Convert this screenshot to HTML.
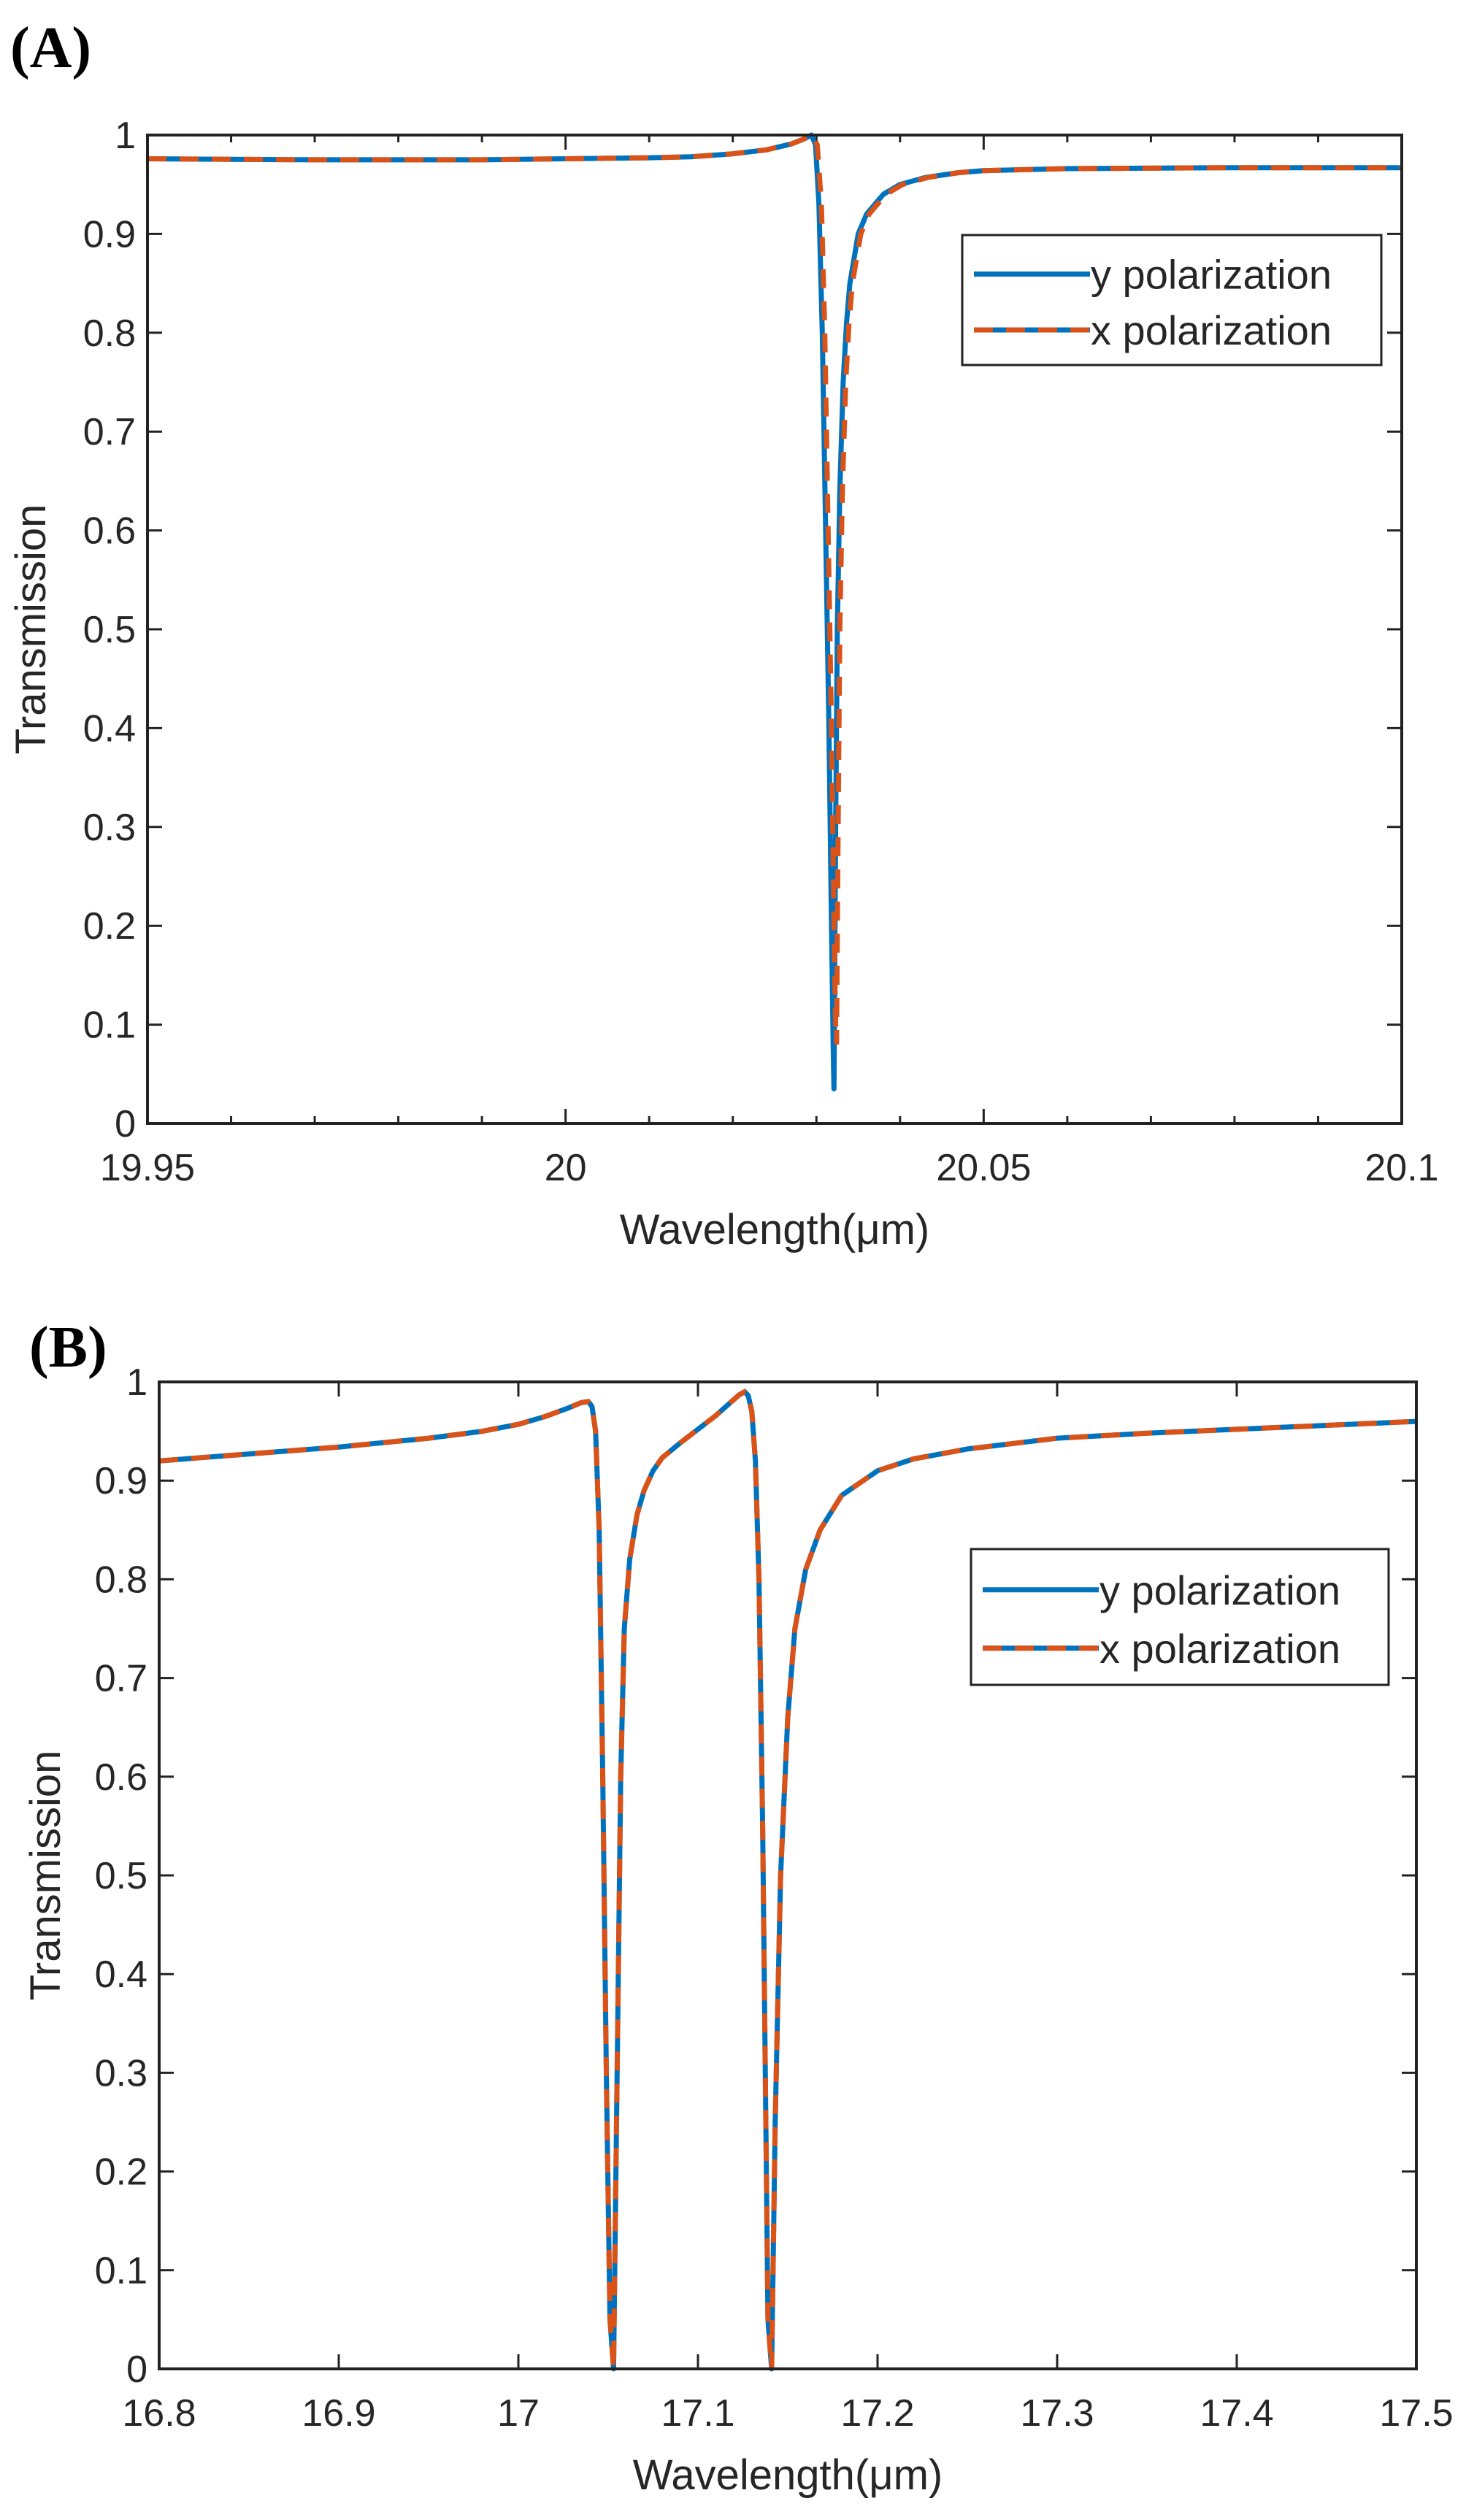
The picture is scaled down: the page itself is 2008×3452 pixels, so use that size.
<!DOCTYPE html>
<html><head><meta charset="utf-8"><style>
html,body{margin:0;padding:0;background:#fff;}
svg{display:block;font-family:"Liberation Sans",sans-serif;}
</style></head><body>
<svg id="fig" width="2008" height="3452" viewBox="0 0 2008 3452" xmlns="http://www.w3.org/2000/svg">
<text x="14" y="92" font-family="Liberation Serif" font-weight="bold" font-size="80">(A)</text>
<text x="40" y="1872" font-family="Liberation Serif" font-weight="bold" font-size="80">(B)</text>
</svg>
<script>
// Panel A data
const aXTicks=[19.95,20,20.05,20.1];
const aXTickLabels=["19.95","20","20.05","20.1"];
const aYTicks=[0,0.1,0.2,0.3,0.4,0.5,0.6,0.7,0.8,0.9,1];
const aYTickLabels=["0","0.1","0.2","0.3","0.4","0.5","0.6","0.7","0.8","0.9","1"];
const aYPolX=[19.95,19.97,19.99,20.0,20.01,20.015,20.02,20.024,20.027,20.0285,20.0294,20.0299,20.0303,20.0307,20.0311,20.0315,20.0318,20.032,20.0321,20.0323,20.0325,20.0328,20.0332,20.0336,20.034,20.035,20.036,20.038,20.04,20.043,20.047,20.05,20.06,20.08,20.1];
const aYPolY=[0.976,0.975,0.975,0.976,0.977,0.978,0.981,0.985,0.991,0.996,1.0,0.99,0.93,0.8,0.6,0.4,0.2,0.08,0.035,0.3,0.5,0.64,0.75,0.81,0.85,0.9,0.92,0.94,0.95,0.957,0.962,0.964,0.966,0.967,0.967];
const aXPolX=[19.95,19.97,19.99,20.0,20.01,20.015,20.02,20.024,20.027,20.0285,20.0295,20.0301,20.0306,20.031,20.0314,20.0318,20.0321,20.0323,20.0324,20.0326,20.0328,20.0331,20.0335,20.0339,20.0343,20.0353,20.0363,20.0383,20.0403,20.0433,20.047,20.05,20.06,20.08,20.1];
const aXPolY=[0.976,0.975,0.975,0.976,0.977,0.978,0.981,0.985,0.991,0.996,1.0,0.99,0.93,0.8,0.6,0.4,0.2,0.1,0.08,0.3,0.5,0.64,0.75,0.81,0.85,0.9,0.92,0.94,0.95,0.957,0.962,0.964,0.966,0.967,0.967];
// Panel B data
const bXTicks=[16.8,16.9,17,17.1,17.2,17.3,17.4,17.5];
const bXTickLabels=["16.8","16.9","17","17.1","17.2","17.3","17.4","17.5"];
const bYTicks=[0,0.1,0.2,0.3,0.4,0.5,0.6,0.7,0.8,0.9,1];
const bYTickLabels=["0","0.1","0.2","0.3","0.4","0.5","0.6","0.7","0.8","0.9","1"];
const bX=[16.8,16.85,16.9,16.95,16.98,17.0,17.015,17.027,17.035,17.039,17.041,17.043,17.045,17.047,17.049,17.051,17.053,17.055,17.057,17.059,17.062,17.066,17.07,17.075,17.08,17.09,17.1,17.11,17.118,17.123,17.126,17.128,17.13,17.132,17.134,17.136,17.139,17.141,17.143,17.146,17.15,17.154,17.16,17.168,17.18,17.2,17.22,17.25,17.3,17.35,17.4,17.45,17.5];
const bYPol=[0.92,0.927,0.934,0.943,0.95,0.957,0.965,0.973,0.979,0.98,0.975,0.95,0.85,0.6,0.3,0.05,0.0,0.3,0.6,0.75,0.82,0.865,0.89,0.91,0.923,0.938,0.952,0.966,0.979,0.987,0.99,0.986,0.97,0.92,0.8,0.55,0.05,0.0,0.25,0.5,0.66,0.75,0.81,0.85,0.885,0.91,0.922,0.932,0.943,0.948,0.952,0.956,0.96];
const bXPol=bYPol.slice();

const NS="http://www.w3.org/2000/svg";
const svg=document.getElementById('fig');
function mk(tag,attrs,parent){const e=document.createElementNS(NS,tag);for(const k in attrs)e.setAttribute(k,attrs[k]);(parent||svg).appendChild(e);return e;}

function panel(p){
  const sx=v=>p.L+(v-p.x0)/(p.x1-p.x0)*(p.R-p.L);
  const sy=v=>p.B-(v-p.y0)/(p.y1-p.y0)*(p.B-p.T);
  const g=mk('g',{});
  
  
  const clip=mk('clipPath',{id:p.name+'-clip'},g);
  mk('rect',{x:p.L,y:p.T-6,width:p.R-p.L+6,height:p.B-p.T+12},clip);
  p.minor.forEach(v=>{
    const x=sx(v);
    const t1=mk('line',{x1:x,y1:p.B,x2:x,y2:p.B-10,stroke:'#222','stroke-width':3},g);
    
    
    mk('line',{x1:x,y1:p.T,x2:x,y2:p.T+10,stroke:'#222','stroke-width':3},g);
  });
  p.xt.forEach((v,i)=>{
    const x=sx(v);
    mk('line',{x1:x,y1:p.B,x2:x,y2:p.B-20,stroke:'#222','stroke-width':3},g);
    mk('line',{x1:x,y1:p.T,x2:x,y2:p.T+20,stroke:'#222','stroke-width':3},g);
    const t=mk('text',{x:x,y:p.B+78,'font-size':52,'text-anchor':'middle',fill:'#262626'},g);
    t.textContent=p.xl[i];
    
    
  });
  p.yt.forEach((v,i)=>{
    const y=sy(v);
    mk('line',{x1:p.L,y1:y,x2:p.L+20,y2:y,stroke:'#222','stroke-width':3},g);
    mk('line',{x1:p.R,y1:y,x2:p.R-20,y2:y,stroke:'#222','stroke-width':3},g);
    const t=mk('text',{x:p.L-16,y:y+18,'font-size':52,'text-anchor':'end',fill:'#262626'},g);
    t.textContent=p.yl[i];
    
    
  });
  const path=(xs,ys)=>xs.map((x,i)=>(i?'L':'M')+sx(x).toFixed(1)+','+sy(ys[i]).toFixed(1)).join('');
  const l1=mk('path',{d:path(p.bx,p.by),fill:'none',stroke:'#0072BD','stroke-width':7,'stroke-linejoin':'round','clip-path':'url(#'+p.name+'-clip)'},g);
  
  
  const l2=mk('path',{d:path(p.ox,p.oy),fill:'none',stroke:'#D95319','stroke-width':7,'stroke-dasharray':'26 18','clip-path':'url(#'+p.name+'-clip)'},g);
  
  
  const ax=mk('rect',{x:p.L,y:p.T,width:p.R-p.L,height:p.B-p.T,fill:'none',stroke:'#222','stroke-width':4},g);
  
  
  const xt=mk('text',{x:(p.L+p.R)/2,y:p.B+165,'font-size':58,'text-anchor':'middle',fill:'#262626'},g);
  xt.textContent='Wavelength(μm)';
  
  
  const yt=mk('text',{x:0,y:0,'font-size':58,'text-anchor':'middle',fill:'#262626',transform:'translate('+p.ytx+','+((p.T+p.B)/2)+') rotate(-90)'},g);
  yt.textContent='Transmission';
  
  
  const lg=mk('g',{},g);
  
  
  mk('rect',{x:p.lg[0],y:p.lg[1],width:p.lg[2],height:p.lg[3],fill:'#fff',stroke:'#222','stroke-width':3},lg);
  const r1=p.lg[1]+p.lg[3]*0.3, r2=p.lg[1]+p.lg[3]*0.73;
  const e1=mk('line',{x1:p.lg[0]+16,y1:r1,x2:p.lg[0]+175,y2:r1,stroke:'#0072BD','stroke-width':7},lg);
  
  
  mk('line',{x1:p.lg[0]+16,y1:r2,x2:p.lg[0]+175,y2:r2,stroke:'#0072BD','stroke-width':7},lg);
  const e2=mk('line',{x1:p.lg[0]+16,y1:r2,x2:p.lg[0]+175,y2:r2,stroke:'#D95319','stroke-width':7,'stroke-dasharray':'26 18'},lg);
  
  
  const a=mk('text',{x:p.lg[0]+176,y:r1+20,'font-size':56,fill:'#262626'},lg);
  a.textContent='y polarization';
  
  
  const b=mk('text',{x:p.lg[0]+176,y:r2+20,'font-size':56,fill:'#262626'},lg);
  b.textContent='x polarization';
  
  
}
panel({name:'panel-a',L:202,R:1920,T:185,B:1539,x0:19.95,x1:20.1,y0:0,y1:1,
  xt:aXTicks,xl:aXTickLabels,yt:aYTicks,yl:aYTickLabels,
  minor:[19.96,19.97,19.98,19.99,20.01,20.02,20.03,20.04,20.06,20.07,20.08,20.09],
  bx:aYPolX,by:aYPolY,ox:aXPolX,oy:aXPolY,ytx:62,lg:[1318,322,574,178]});
panel({name:'panel-b',L:218,R:1940,T:1893,B:3245,x0:16.8,x1:17.5,y0:0,y1:1,
  xt:bXTicks,xl:bXTickLabels,yt:bYTicks,yl:bYTickLabels,
  minor:[],bx:bX,by:bYPol,ox:bX,oy:bXPol,ytx:82,lg:[1330,2122,572,186]});
</script>
</body></html>
